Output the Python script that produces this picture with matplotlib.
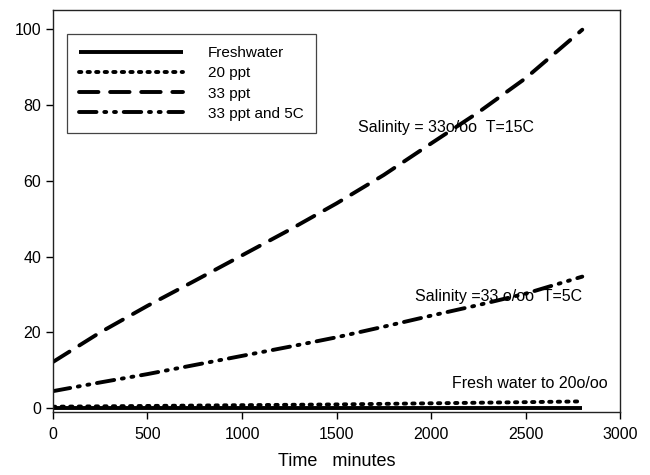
import matplotlib
matplotlib.use("Agg")
import matplotlib.pyplot as plt

plt.rcParams['font.family'] = ['Liberation Sans', 'DejaVu Sans']

time_min = [0, 250, 500, 750, 1000, 1250, 1500, 1750, 2000, 2250, 2500, 2800]
freshwater = [0.1, 0.1, 0.1, 0.1, 0.1, 0.1, 0.1, 0.1, 0.1, 0.1, 0.1, 0.1]
ppt20 = [0.4, 0.5, 0.6, 0.7, 0.8, 0.9, 1.0, 1.15, 1.3, 1.45, 1.6, 1.8]
ppt33 = [12.2, 20.0, 27.0, 33.6, 40.3, 47.0, 54.0, 61.5, 69.8, 78.0, 87.0, 99.8]
ppt33_5c = [4.5, 6.8, 9.0, 11.4, 13.8, 16.2, 18.7, 21.5, 24.4, 27.2, 30.2, 34.7]

series_labels = ["Freshwater", "20 ppt", "33 ppt", "33 ppt and 5C"]
annotations = [
    (1614, 73.9, "Salinity = 33o/oo  T=15C"),
    (1915, 29.5, "Salinity =33 o/oo  T=5C"),
    (2111, 6.6, "Fresh water to 20o/oo"),
]
xticks = [0, 500, 1000, 1500, 2000, 2500, 3000]
yticks = [0, 20, 40, 60, 80, 100]

fig = plt.figure(figsize=(6.5, 4.75), dpi=100)
ax = fig.add_axes([0.0815, 0.1326, 0.8725, 0.8464])

lw = 2.8
kw = dict(color='black', lw=lw, dash_capstyle='round', solid_capstyle='butt')
ax.plot(time_min, freshwater, ls='-', label=series_labels[0], **kw)
ax.plot(time_min, ppt20, ls=(0, (0.6, 1.6)), label=series_labels[1], **kw)
ax.plot(time_min, ppt33, ls=(0, (5, 3)), label=series_labels[2], **kw)
ax.plot(time_min, ppt33_5c, ls=(0, (4.5, 2, 0.5, 2, 0.5, 2)), label=series_labels[3], **kw)

for x, y, t in annotations:
    ax.text(x, y, t, fontsize=11.5, ha='left', va='center')

ax.set_xlim(0, 3000)
ax.set_ylim(-1, 105)
ax.set_xticks(xticks)
ax.set_yticks(yticks)
ax.tick_params(axis='both', direction='out', length=5, width=1, labelsize=11.5, top=False, right=False)
ax.tick_params(axis='x', pad=6)
for s in ax.spines.values():
    s.set_linewidth(1.0)
    s.set_color('#222222')
ax.set_xlabel("Time   minutes", fontsize=13, labelpad=8)

leg = ax.legend(loc='upper left', bbox_to_anchor=(0.0247, 0.940), borderaxespad=0,
                handlelength=6.8, handletextpad=1.6, borderpad=0.8, labelspacing=0.4,
                fontsize=11, fancybox=False, framealpha=1)
leg.get_frame().set_edgecolor('#444444')
leg.get_frame().set_linewidth(0.9)

fig.savefig("out.png", dpi=100)
